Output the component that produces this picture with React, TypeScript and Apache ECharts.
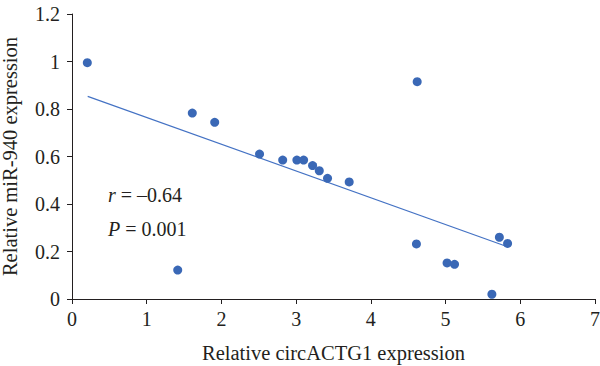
import React, { useEffect, useRef } from "react";
import * as echarts from "echarts";

const xValues = [0.205, 1.415, 1.61, 1.91, 2.51, 2.82, 3.01, 3.1, 3.22, 3.31, 3.42, 3.71, 4.62, 4.61, 5.02, 5.12, 5.62, 5.72, 5.83];
const yValues = [0.995, 0.122, 0.783, 0.744, 0.61, 0.585, 0.585, 0.585, 0.562, 0.54, 0.508, 0.493, 0.915, 0.232, 0.152, 0.146, 0.02, 0.26, 0.234];
const trendX = [0.21, 5.81];
const trendY = [0.853, 0.222];
const xTicks = [0, 1, 2, 3, 4, 5, 6, 7];
const yTicks = [0, 0.2, 0.4, 0.6, 0.8, 1, 1.2];

const FONT = "Liberation Serif";
const FS = 20;

export default function App() {
  const ref = useRef<HTMLDivElement>(null);
  useEffect(() => {
    const chart = echarts.init(ref.current!, null, { renderer: "svg" });
    const points = xValues.map((x, i) => [x, yValues[i]]);
    const trend = trendX.map((x, i) => [x, trendY[i]]);
    chart.setOption({
      animation: false,
      backgroundColor: "#ffffff",
      grid: { left: 72, right: 5, top: 14, bottom: 67, containLabel: false, outerBoundsMode: "none" },
      xAxis: {
        type: "value",
        min: xTicks[0],
        max: xTicks[xTicks.length - 1],
        interval: 1,
        name: "Relative circACTG1 expression",
        nameLocation: "middle",
        nameGap: 43,
        nameTextStyle: { fontFamily: FONT, fontSize: 20.5, color: "#231f20" },
        axisLine: { lineStyle: { color: "#231f20", width: 1 } },
        axisTick: { show: true, length: 5, inside: false, lineStyle: { color: "#231f20" } },
        axisLabel: { fontFamily: FONT, fontSize: FS, color: "#231f20", margin: 10 },
        splitLine: { show: false },
      },
      yAxis: {
        type: "value",
        min: yTicks[0],
        max: yTicks[yTicks.length - 1],
        interval: 0.2,
        name: "Relative miR-940 expression",
        nameLocation: "middle",
        nameGap: 52,
        nameTextStyle: { fontFamily: FONT, fontSize: 20.5, color: "#231f20" },
        axisLine: { show: true, lineStyle: { color: "#231f20", width: 1 } },
        axisTick: { show: true, length: 5, inside: false, lineStyle: { color: "#231f20" } },
        axisLabel: { fontFamily: FONT, fontSize: FS, color: "#231f20", margin: 12 },
        splitLine: { show: false },
      },
      graphic: [
        {
          type: "text",
          left: 108,
          top: 185,
          style: {
            text: "{i|r} = –0.64",
            fontFamily: FONT,
            fontSize: FS,
            fill: "#231f20",
            rich: { i: { fontStyle: "italic", fontFamily: FONT, fontSize: FS, fill: "#231f20" } },
          },
        },
        {
          type: "text",
          left: 108,
          top: 219,
          style: {
            text: "{i|P} = 0.001",
            fontFamily: FONT,
            fontSize: FS,
            fill: "#231f20",
            rich: { i: { fontStyle: "italic", fontFamily: FONT, fontSize: FS, fill: "#231f20" } },
          },
        },
      ],
      series: [
        {
          type: "line",
          data: trend,
          showSymbol: false,
          lineStyle: { color: "#4472c4", width: 1.2 },
          z: 1,
        },
        {
          type: "scatter",
          data: points,
          symbolSize: 9,
          itemStyle: { color: "#3a68b6", opacity: 1 },
          z: 2,
        },
      ],
    });
    return () => chart.dispose();
  }, []);
  return <div ref={ref} style={{ width: 600, height: 366, position: "absolute", left: 0, top: 0 }} />;
}
